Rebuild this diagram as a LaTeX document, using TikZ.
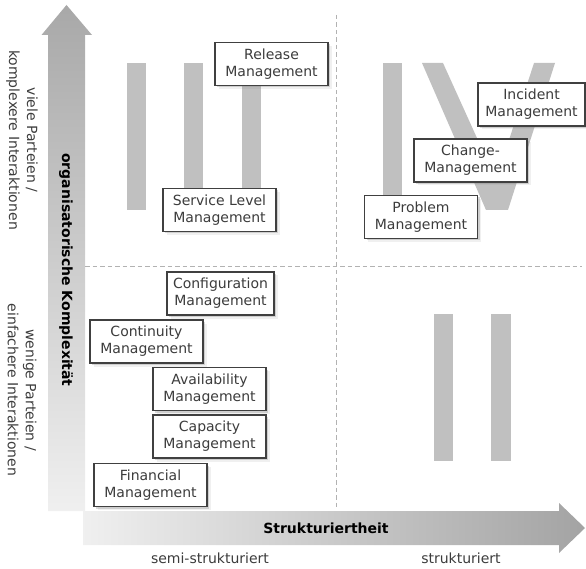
\documentclass[tikz,border=0pt]{standalone}
\usepackage{fontspec}
\setmainfont{DejaVu Sans}
\usetikzlibrary{shadows}

\definecolor{txtgray}{RGB}{60,60,60}
\definecolor{numgray}{RGB}{192,192,192}
\definecolor{dashgray}{RGB}{178,178,178}

\tikzset{
  itilbox/.style={draw=black!75, line width=1.1pt, fill=white, align=center,
    minimum width=113pt, minimum height=43pt, inner sep=2pt, text=txtgray,
    font=\fontsize{14}{17}\selectfont,
    drop shadow={shadow xshift=3.5pt, shadow yshift=-3.5pt, opacity=0.12},
    drop shadow={shadow xshift=2pt, shadow yshift=-2pt, opacity=0.3}},
  axislabel/.style={font=\fontsize{14}{17}\selectfont\bfseries, text=black},
  sidelabel/.style={font=\fontsize{14}{18}\selectfont, text=txtgray, align=center, rotate=-90},
  quadline/.style={dashgray, dash pattern=on 4.5pt off 3pt, line width=0.8pt},
}

\begin{document}
\begin{tikzpicture}[x=1pt,y=-1pt]
\useasboundingbox (0,0) rectangle (586,569);

% the two axes as block arrows
\shade[top color=black!34, bottom color=black!6]
  (48,511) -- (48,35) -- (41.5,35) -- (66.5,5) -- (92,35) -- (85,35) -- (85,511) -- cycle;
\shade[left color=black!6, right color=black!36]
  (83,511) -- (559,511) -- (559,503) -- (585,528) -- (559,553) -- (559,545) -- (83,545) -- cycle;

% quadrant borders
\draw[quadline] (336,15) -- (336,510);
\draw[quadline] (85,266) -- (582,266);

% III
\fill[numgray] (127,63) rectangle (146,210);
\fill[numgray] (184,63) rectangle (203,210);
\fill[numgray] (242,63) rectangle (261,210);
% IV
\fill[numgray] (383,63) rectangle (402,210);
\fill[numgray] (422,63) -- (443,63) -- (496,180) -- (534,63) -- (555,63) -- (508,210) -- (486,210) -- cycle;
% II
\fill[numgray] (434,314) rectangle (453,461);
\fill[numgray] (491,314) rectangle (511,461);

% processes
\node[itilbox] (release) at (271.5,64) {Release\\Management};
\node[itilbox] (slm) at (219.5,210) {Service Level\\Management};
\node[itilbox, minimum width=107pt] (incident) at (531.5,104.5) {Incident\\Management};
\node[itilbox] (change) at (470.5,160.5) {Change-\\Management};
\node[itilbox] (problem) at (421,217) {Problem\\Management};
\node[itilbox, minimum width=107pt] (config) at (220.5,293.5) {Configuration\\Management};
\node[itilbox] (continuity) at (146.5,341.5) {Continuity\\Management};
\node[itilbox] (availability) at (209.5,389) {Availability\\Management};
\node[itilbox] (capacity) at (209.5,436.5) {Capacity\\Management};
\node[itilbox] (financial) at (150.5,485) {Financial\\Management};

% axis labels
\node[axislabel, rotate=-90] (komplex) at (66,270) {organisatorische Komplexität};
\node[axislabel] (struktur) at (326,528) {Strukturiertheit};
\node[sidelabel] (viele) at (22,140) {viele Parteien /\\komplexere Interaktionen};
\node[sidelabel] (wenige) at (22,390) {wenige Parteien /\\einfachere Interaktionen};
\node[font=\fontsize{14}{17}\selectfont, text=txtgray] (semi) at (210,558) {semi-strukturiert};
\node[font=\fontsize{14}{17}\selectfont, text=txtgray] (strukt) at (461,558) {strukturiert};
\end{tikzpicture}
\end{document}
